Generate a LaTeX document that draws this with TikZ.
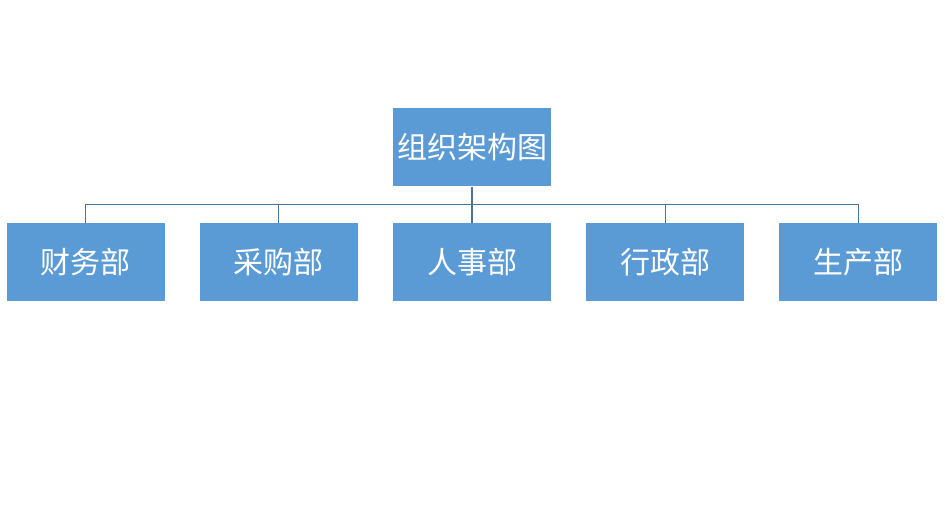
\documentclass[tikz,border=0pt]{standalone}
\usepackage{fontspec}
\setmainfont{Noto Sans CJK SC}
\usepackage{tikz}
\usetikzlibrary{positioning, calc}
\usepackage{xcolor}
\definecolor{boxblue}{HTML}{5B9BD5}
\definecolor{linkblue}{HTML}{4A7396}
\tikzstyle{dept} = [rectangle, minimum width=118.5pt, minimum height=58.5pt, inner sep=0pt, text centered, fill=boxblue, text=white, font=\fontsize{22.5pt}{26pt}\selectfont]
\tikzstyle{link} = [line width=0.8pt, draw=linkblue]

\begin{document}
\begin{tikzpicture}[node distance=26pt]
    \useasboundingbox (0,0) rectangle (708.75pt,-391.5pt);
    \node (org) [dept] at (354pt,-110.6pt) {组织架构图};
    \node (hr) [dept, below=27pt of org] {人事部};
    \node (cg) [dept, left=of hr] {采购部};
    \node (cw) [dept, left=of cg] {财务部};
    \node (xz) [dept, right=of hr] {行政部};
    \node (sc) [dept, right=of xz] {生产部};

    \coordinate (bus) at ($(org.south)!0.5!(hr.north)$);
    \draw [link] (org.south) -- (bus);
    \foreach \n in {cw, cg, hr, xz, sc} {
        \draw [link] (bus) -| (\n.north);
    }
\end{tikzpicture}
\end{document}
